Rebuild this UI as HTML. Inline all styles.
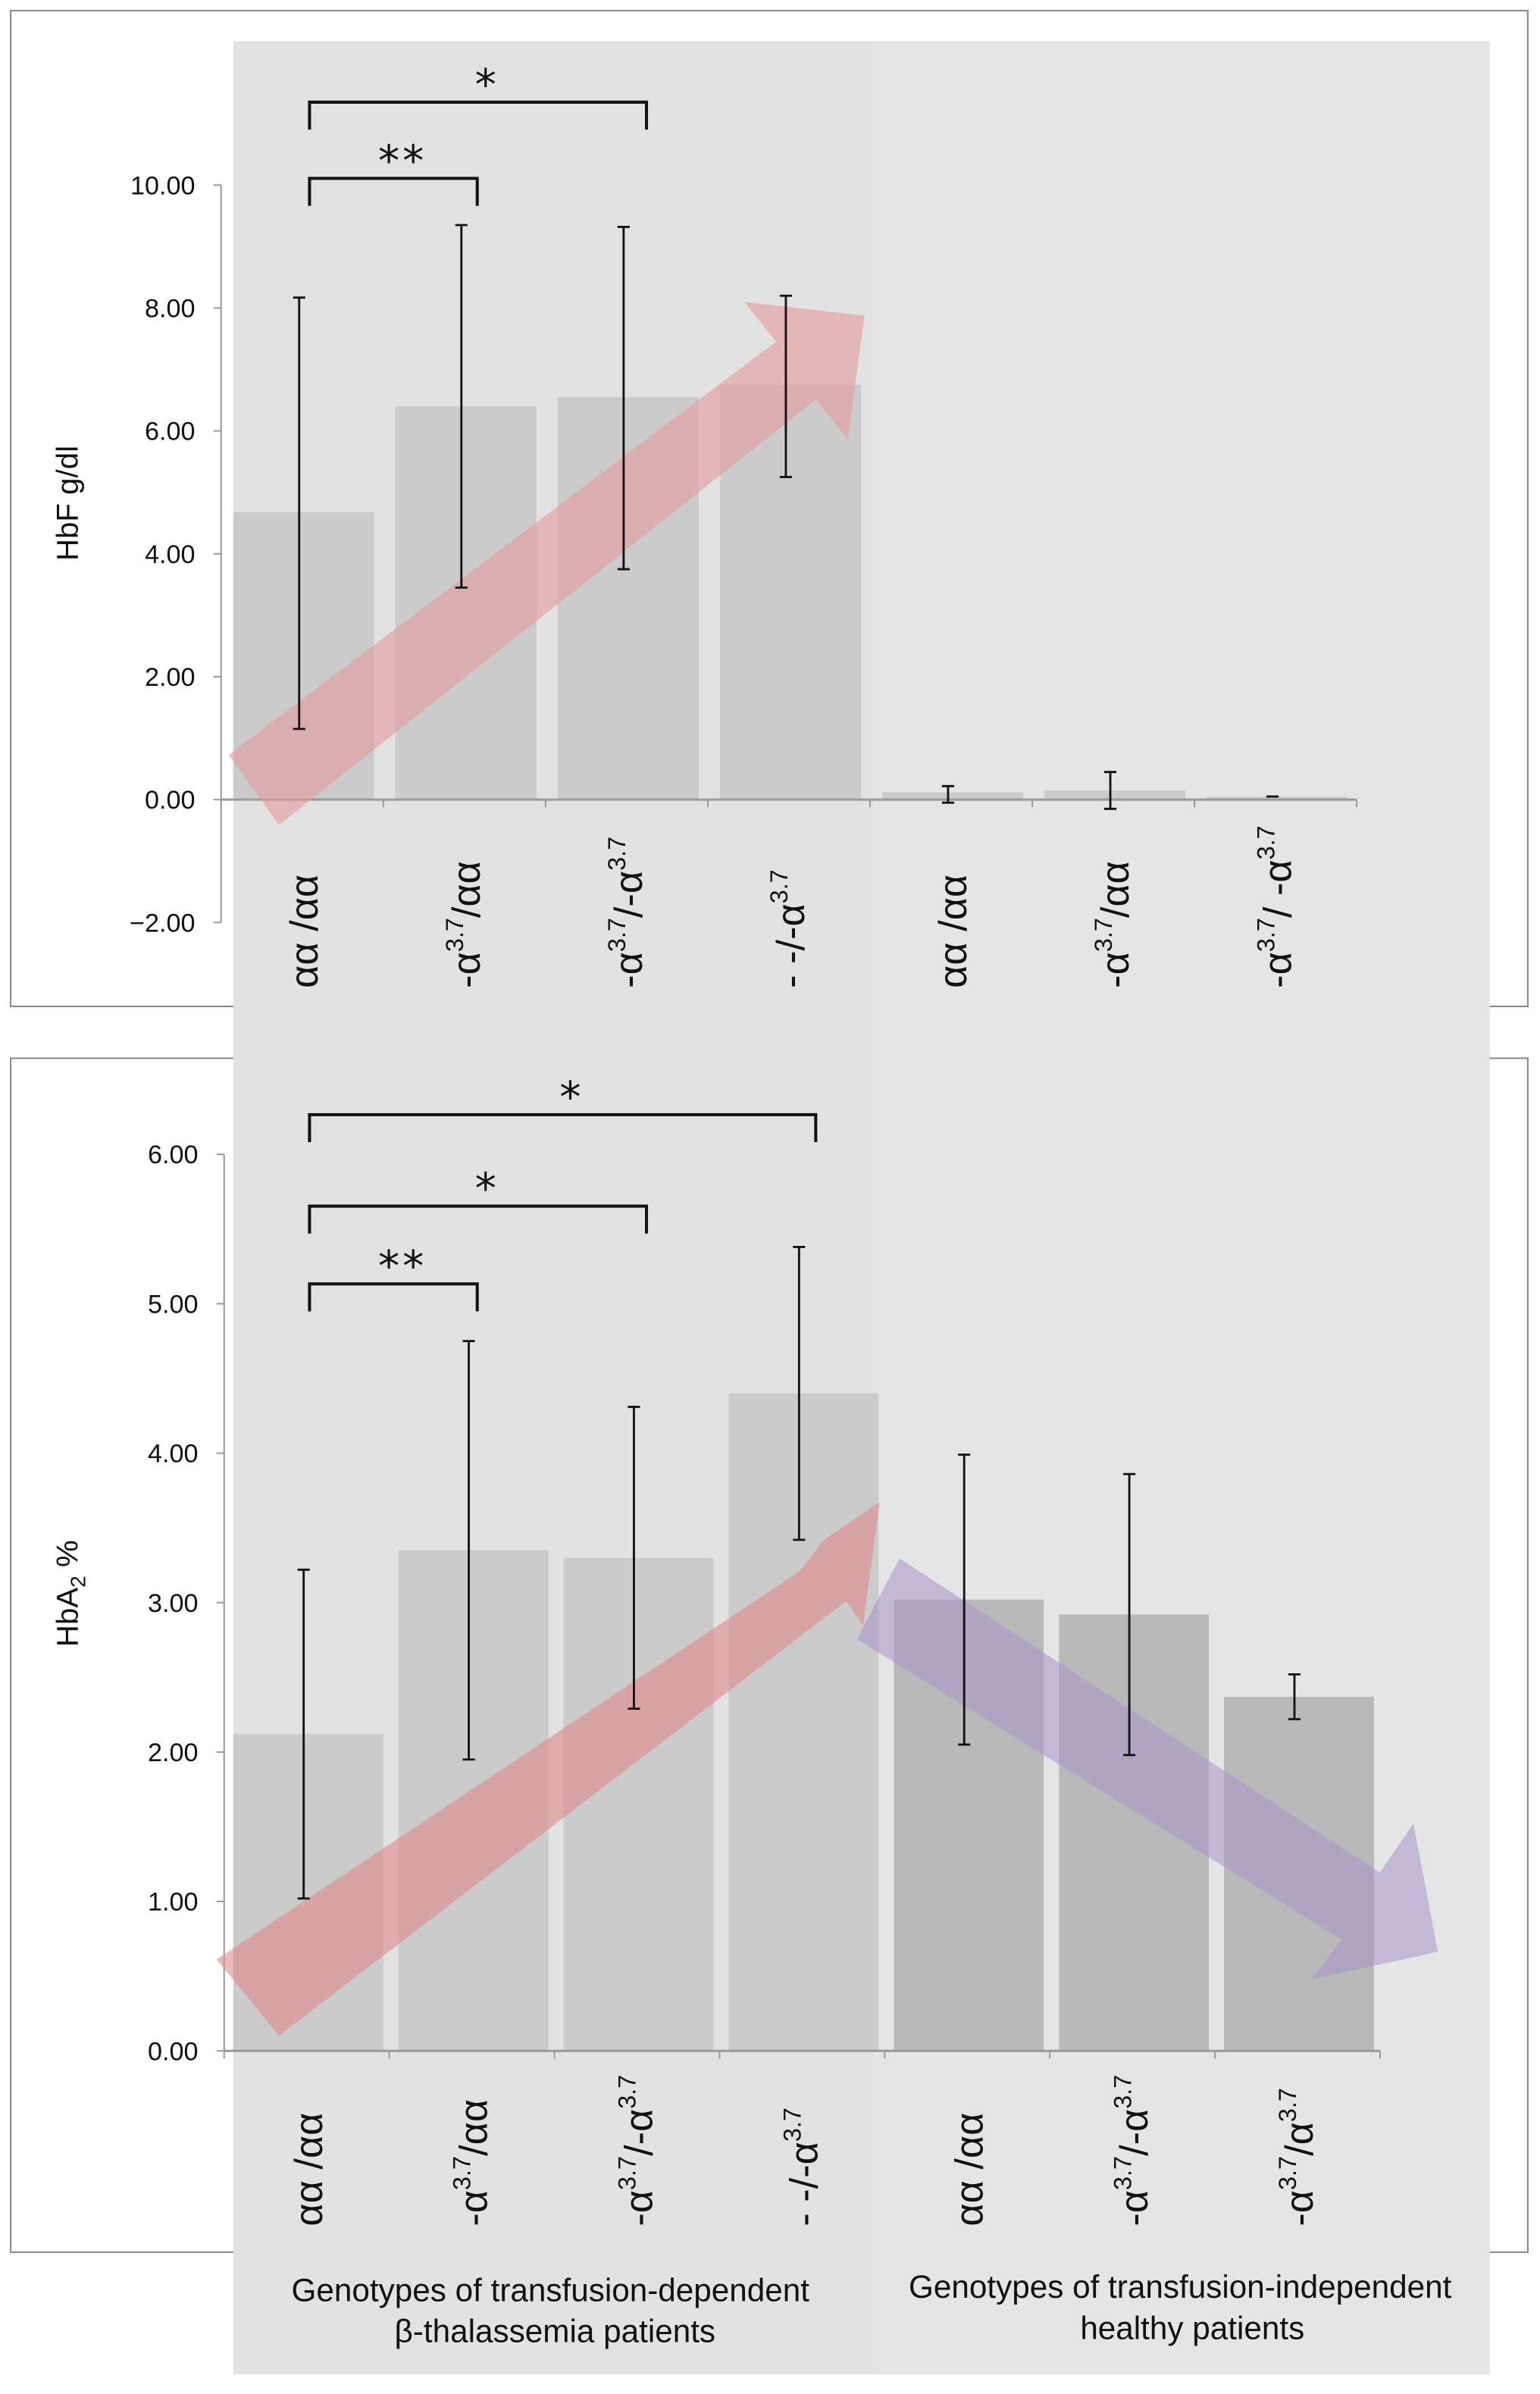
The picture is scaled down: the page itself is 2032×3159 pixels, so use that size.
<!DOCTYPE html>
<html><head><meta charset="utf-8"><style>
html,body{margin:0;padding:0;background:#fff;}
svg{display:block;font-family:"Liberation Sans",sans-serif;}
</style></head><body>
<svg id="fig" width="2032" height="3159" viewBox="0 0 1010 1570" preserveAspectRatio="none" xmlns="http://www.w3.org/2000/svg">
<rect x="7" y="7" width="995" height="653" fill="#fff" stroke="#888" stroke-width="1"/>
<rect x="7" y="694" width="995" height="783" fill="#fff" stroke="#888" stroke-width="1"/>
<rect x="153" y="27" width="420" height="1530" fill="#e2e2e2"/>
<rect x="573" y="27" width="404" height="1530" fill="#e5e5e5"/>
<g id="top"></g>
<g id="bot"></g>
<text x="361" y="1509" font-size="21" text-anchor="middle" fill="#111">Genotypes of transfusion-dependent</text>
<text x="364" y="1536" font-size="21" text-anchor="middle" fill="#111">β-thalassemia patients</text>
<text x="774" y="1507" font-size="21" text-anchor="middle" fill="#111">Genotypes of transfusion-independent</text>
<text x="782" y="1534" font-size="21" text-anchor="middle" fill="#111">healthy patients</text>
</svg>
<script>
const topCats = ["αα /αα","-α3.7/αα","-α3.7/-α3.7","- -/-α3.7","αα /αα","-α3.7/αα","-α3.7/ -α3.7"];
const topVals = [4.68,6.40,6.55,6.75,0.12,0.15,0.05];
const topErrHi = [8.17,9.35,9.32,8.20,0.22,0.45,0.05];
const topErrLo = [1.15,3.45,3.75,5.25,-0.05,-0.15,0.05];
const topTicks = [-2,0,2,4,6,8,10];
const botCats = ["αα /αα","-α3.7/αα","-α3.7/-α3.7","- -/-α3.7","αα /αα","-α3.7/-α3.7","-α3.7/α3.7"];
const botVals = [2.12,3.35,3.30,4.40,3.02,2.92,2.37];
const botErrHi = [3.22,4.75,4.31,5.38,3.99,3.86,2.52];
const botErrLo = [1.02,1.95,2.29,3.42,2.05,1.98,2.22];
const botTicks = [0,1,2,3,4,5,6];
const NS="http://www.w3.org/2000/svg";
function mk(parent,tag,attrs){const e=document.createElementNS(NS,tag);for(const k in attrs)e.setAttribute(k,attrs[k]);parent.appendChild(e);return e;}
function label(parent,x,y,txt,size){
  const t=mk(parent,'text',{x:0,y:0,'font-size':size,fill:'#111',transform:`translate(${x},${y}) rotate(-90)`});
  
  
  const parts=txt.split('3.7');
  let pendingDy=0;
  parts.forEach((p,i)=>{
    if(p.length){const s=mk(t,'tspan',pendingDy?{dy:pendingDy}:{}); s.textContent=p; pendingDy=0;}
    if(i<parts.length-1){const sup=mk(t,'tspan',{'font-size':size*0.62,dy:-size*0.42+pendingDy});sup.textContent='3.7';pendingDy=size*0.42;}
  });
}
function chart(g,o){
  const ys=v=>o.y0-(v-o.vmin)*o.ppu;
  const xc=i=>o.x0+(i+0.5)*o.cw;
  const ax=mk(g,'line',{x1:o.x0,x2:o.x0,y1:ys(o.ticks[o.ticks.length-1]),y2:ys(o.ticks[0]),stroke:'#999','stroke-width':1});
  
  o.ticks.forEach(t=>{
    mk(g,'line',{x1:o.x0-5,x2:o.x0,y1:ys(t),y2:ys(t),stroke:'#999'});
    const tl=mk(g,'text',{x:o.x0-17,y:ys(t)+6,'font-size':17,'text-anchor':'end',fill:'#111'});
    
    
    tl.textContent=(t<0?'−':'')+Math.abs(t).toFixed(2);
  });
  o.vals.forEach((v,i)=>{
    const b=mk(g,'rect',{x:o.x0+i*o.cw+o.gap,width:o.cw-2*o.gap+2,y:Math.min(ys(v),ys(0)),height:Math.abs(ys(0)-ys(v)),fill:(o.dark&&i>=4)?'#b9b9b9':'#cbcbcb'});
    
    
  });
  const xa=mk(g,'line',{x1:o.x0,x2:o.x0+7*o.cw,y1:ys(0),y2:ys(0),stroke:'#999','stroke-width':1.5});
  
  for(let i=0;i<=7;i++)mk(g,'line',{x1:o.x0+i*o.cw,x2:o.x0+i*o.cw,y1:ys(0),y2:ys(0)+5,stroke:'#999'});
  o.arrows.forEach(a=>{const p=mk(g,'polygon',{points:a.pts,fill:a.c,'fill-opacity':a.op});});
  o.vals.forEach((v,i)=>{
    const x=xc(i)-2;
    const e=mk(g,'path',{d:`M${x},${ys(o.hi[i])}V${ys(o.lo[i])}M${x-4},${ys(o.hi[i])}H${x+4}M${x-4},${ys(o.lo[i])}H${x+4}`,stroke:'#111','stroke-width':1.4,fill:'none'});
    
    
  });
  o.cats.forEach((c,i)=>label(g,xc(i)+10,o.ly,c,26));
  o.br.forEach(b=>{
    const p=mk(g,'path',{d:`M${b[0]},${b[2]+18}V${b[2]}H${b[1]}V${b[2]+18}`,stroke:'#111','stroke-width':2,fill:'none'});
    
    
    const s=mk(g,'text',{x:(b[0]+b[1])/2+6,y:b[2]-2,'font-size':28,'text-anchor':'middle',fill:'#111','font-family':'DejaVu Sans','letter-spacing':2});
    
    
    s.textContent=b[3];
  });
  const yt=mk(g,'text',{x:0,y:0,'font-size':20,'text-anchor':'middle',fill:'#111',transform:`translate(51,${o.ytY}) rotate(-90)`});
  
  
  if(o.sub){const a=mk(yt,'tspan',{});a.textContent='HbA';const s=mk(yt,'tspan',{'font-size':14,dy:5});s.textContent='2';const r=mk(yt,'tspan',{dy:-5});r.textContent=' %';}
  else yt.textContent=o.yt;
}
chart(document.getElementById('top'),{x0:145,cw:106.4,gap:8,y0:605,vmin:-2,ppu:40.3,ticks:topTicks,vals:topVals,hi:topErrHi,lo:topErrLo,cats:topCats,ly:648,
  br:[[203,424,67,'*'],[203,313,117,'**']],yt:'HbF g/dl',ytY:330,
  arrows:[{n:'increase-arrow',c:'#e59a9c',op:0.6,pts:'150,495 509,224 488,198 567,207 556,288 535,262 183,541'}]});
chart(document.getElementById('bot'),{x0:147,cw:108.3,gap:6,y0:1345,vmin:0,ppu:98,ticks:botTicks,vals:botVals,hi:botErrHi,lo:botErrLo,cats:botCats,ly:1460,dark:true,
  br:[[203,535,731,'*'],[203,424,791,'*'],[203,313,842,'**']],sub:true,ytY:1045,
  arrows:[{n:'increase-arrow',c:'#e0898c',op:0.6,pts:'142,1285 525,1030 540,1010 577,985 566,1066 555,1050 183,1335'},
          {n:'decrease-arrow',c:'#a893c9',op:0.55,pts:'590,1022 905,1228 927,1196 943,1280 860,1298 880,1272 562,1075'}]});
</script>
</body></html>
